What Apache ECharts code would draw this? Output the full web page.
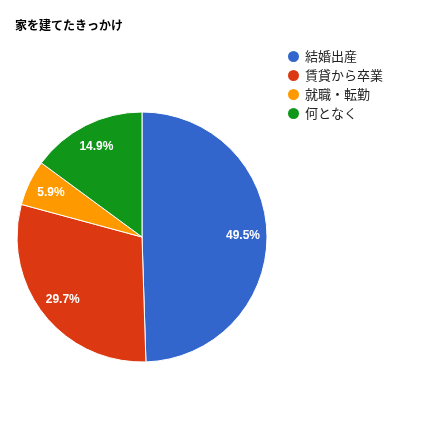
<!DOCTYPE html>
<html>
<head>
<meta charset="utf-8">
<script src="https://cdn.jsdelivr.net/npm/echarts@6/dist/echarts.min.js"></script>
<style>
  html, body { margin: 0; padding: 0; background: #fff; }
  #main { width: 424px; height: 424px; }
</style>
</head>
<body>
<div id="main"></div>
<script>
var categories = ['結婚出産', '賃貸から卒業', '就職・転勤', '何となく'];
var percents = [49.5, 29.7, 5.9, 14.9];
var colors = ['#3366cc', '#dc3912', '#ff9900', '#109618'];

var font = 'Arial, "Liberation Sans", "Noto Sans CJK JP", sans-serif';

var pieData = categories.map(function (name, i) {
  return { name: name, value: percents[i], itemStyle: { color: colors[i] } };
});

var myChart = echarts.init(document.getElementById('main'));
myChart.setOption({
  animation: false,
  title: {
    text: '家を建てたきっかけ',
    left: 10,
    top: 14,
    textStyle: { fontSize: 12, fontWeight: 'bold', color: '#000', fontFamily: '"Noto Sans CJK JP", sans-serif' }
  },
  legend: {
    orient: 'vertical',
    left: 281,
    top: 44,
    icon: 'circle',
    itemWidth: 13,
    itemHeight: 13,
    itemGap: 4,
    textStyle: { fontSize: 13, color: '#222', fontFamily: '"Noto Sans CJK JP", sans-serif' },
    data: categories
  },
  series: [
    {
      type: 'pie',
      center: [142, 237],
      radius: [0, 125],
      startAngle: 90,
      clockwise: true,
      itemStyle: { borderColor: '#fff', borderWidth: 1 },
      label: { show: false },
      labelLine: { show: false },
      emphasis: { disabled: true },
      data: pieData
    },
    {
      // transparent copy, only used to place the labels further out
      type: 'pie',
      center: [142, 237],
      radius: [0, 196],
      startAngle: 90,
      clockwise: true,
      silent: true,
      itemStyle: { color: 'transparent', borderWidth: 0 },
      label: {
        show: true,
        position: 'inside',
        formatter: '{c}%',
        color: '#fff',
        fontSize: 12,
        fontWeight: 'bold',
        fontFamily: font
      },
      labelLine: { show: false },
      emphasis: { disabled: true },
      data: categories.map(function (name, i) {
        return { name: name, value: percents[i], itemStyle: { color: 'transparent' } };
      })
    }
  ]
});
</script>
</body>
</html>
